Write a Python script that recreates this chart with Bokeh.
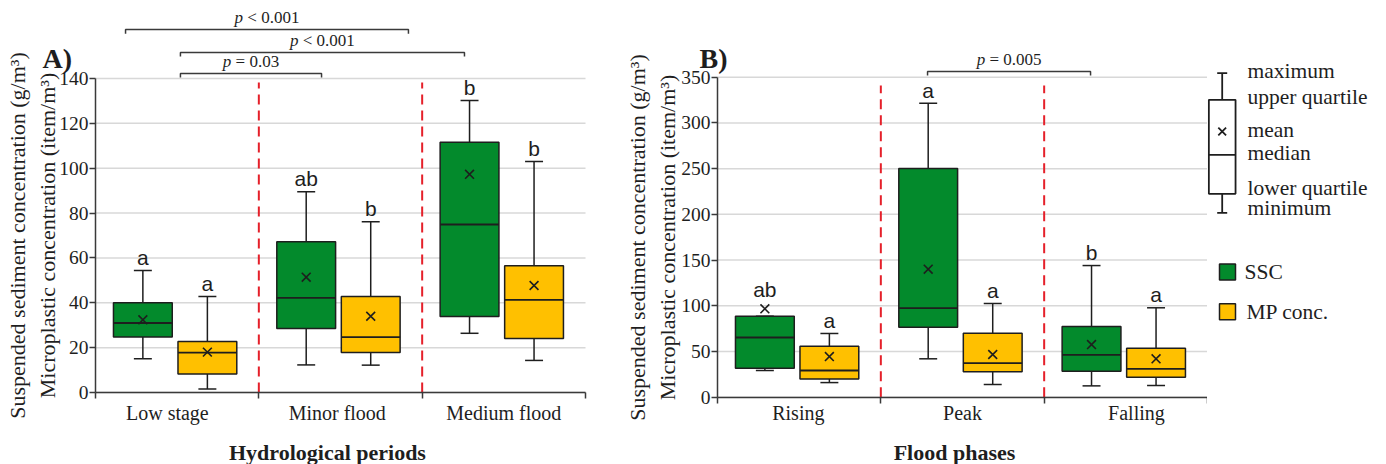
from bokeh.plotting import figure
from bokeh.models import Range1d, FixedTicker, CustomJSTickFormatter
from bokeh.layouts import row
from bokeh.embed import file_html
from bokeh.resources import INLINE
from bokeh.core.properties import value

# ---------------- data: panel A (hydrological periods) ----------------
periods = ["Low stage", "Minor flood", "Medium flood"]
ssc_a_min = [15.0, 12.3, 26.4]
ssc_a_q1 = [24.7, 28.5, 33.9]
ssc_a_med = [31.0, 42.2, 74.9]
ssc_a_q3 = [40.0, 67.2, 111.6]
ssc_a_max = [54.4, 89.5, 130.2]
ssc_a_mean = [32.4, 51.4, 97.3]
ssc_a_letters = ["a", "ab", "b"]

mp_a_min = [1.6, 12.2, 14.3]
mp_a_q1 = [8.3, 17.8, 24.1]
mp_a_med = [17.8, 24.7, 41.3]
mp_a_q3 = [22.7, 42.8, 56.5]
mp_a_max = [42.8, 76.1, 103.0]
mp_a_mean = [18.0, 34.0, 47.7]
mp_a_letters = ["a", "b", "b"]

yticks_a = [0, 20, 40, 60, 80, 100, 120, 140]

# ---------------- data: panel B (flood phases) ----------------
phases = ["Rising", "Peak", "Falling"]
ssc_b_min = [29.2, 42.0, 12.4]
ssc_b_q1 = [31.7, 76.6, 28.5]
ssc_b_med = [65.3, 97.4, 46.4]
ssc_b_q3 = [88.6, 250.1, 77.3]
ssc_b_max = [88.6, 321.6, 144.0]
ssc_b_mean = [96.7, 140.0, 57.6]
ssc_b_letters = ["ab", "a", "b"]

mp_b_min = [16.0, 13.9, 12.8]
mp_b_q1 = [20.0, 27.8, 21.9]
mp_b_med = [29.2, 37.2, 31.0]
mp_b_q3 = [55.8, 70.0, 53.6]
mp_b_max = [69.7, 102.5, 97.8]
mp_b_mean = [44.5, 46.7, 42.0]
mp_b_letters = ["a", "a", "a"]

yticks_b = [0, 50, 100, 150, 200, 250, 300, 350]

# significance brackets: (start, end, level, relation, p text)
brackets_a = [(0.184, 1.916, 161.8, "<", "0.001"),
              (0.520, 2.259, 151.6, "<", "0.001"),
              (0.520, 1.384, 142.2, "=", "0.03")]
brackets_b = [(1.286, 2.284, 356.2, "=", "0.005")]

series_names = ["SSC", "MP conc."]
GREEN = "#038A2C"
GOLD = "#FFC000"
RED = "#E5202A"
INK = "#1E1E1E"
AXIS = "#3A3A3A"
GRID = "#D8D8D8"
SERIF = "Liberation Serif"
SANS = "Liberation Sans"

BOX_W = 0.36
CAP_W = 0.11
OFF_SSC = 0.29
OFF_MP = 0.685
BASE_SHIFT = -7   # compensates the svg alphabetic-baseline shift
YLABEL = "Suspended sediment concentration (g/m\u00b3)\nMicroplastic concentration (item/m\u00b3)"


def make_panel(cats, label_pos, ssc, mp, yticks, xr, yr, y_top_line, brackets, tick_len,
               xlabel, xlabel_xy, panel_label, plabel_xy, width, x_std, y_lbl_std):
    p = figure(width=width, height=464, x_range=Range1d(*xr), y_range=Range1d(*yr),
               output_backend="svg", toolbar_location=None, min_border=0)
    p.outline_line_color = None
    p.background_fill_color = "white"
    p.xgrid.visible = False
    p.ygrid.visible = False

    # horizontal grid lines across the three categories
    p.segment(x0=[0] * len(yticks), x1=[3] * len(yticks), y0=yticks, y1=yticks,
              line_color=GRID, line_width=1.5)

    # y axis (anchored at x = 0)
    ya = p.yaxis[0]
    ya.fixed_location = 0
    ya.ticker = FixedTicker(ticks=yticks, minor_ticks=[])
    ya.bounds = (yticks[0], yticks[-1])
    ya.axis_line_color = AXIS
    ya.axis_line_width = 1.5
    ya.major_tick_line_color = AXIS
    ya.major_tick_line_width = 1.5
    ya.major_tick_out = 6
    ya.major_tick_in = 0
    ya.minor_tick_out = 0
    ya.minor_tick_in = 0
    ya.major_label_text_font = SERIF
    ya.major_label_text_font_size = "19.5px"
    ya.major_label_text_color = INK
    ya.major_label_standoff = 1
    ya.axis_label = YLABEL
    ya.axis_label_text_font = SERIF
    ya.axis_label_text_font_style = "normal"
    ya.axis_label_text_font_size = "22px"
    ya.axis_label_text_color = INK
    ya.axis_label_text_line_height = 1.22
    ya.axis_label_standoff = y_lbl_std

    # x axis (anchored at y = 0); labels sit under each category
    xa = p.xaxis[0]
    xa.fixed_location = 0
    xa.bounds = (0, 3)
    xa.ticker = FixedTicker(ticks=label_pos, minor_ticks=[0, 1, 2, 3])
    xa.formatter = CustomJSTickFormatter(args=dict(labels=cats),
                                         code="return labels[Math.floor(tick)];")
    xa.axis_line_color = AXIS
    xa.axis_line_width = 1.5
    xa.major_tick_out = 0
    xa.major_tick_in = 0
    xa.minor_tick_out = 6
    xa.minor_tick_in = 0
    xa.minor_tick_line_color = AXIS
    xa.minor_tick_line_width = 1.5
    xa.major_label_text_font = SERIF
    xa.major_label_text_font_size = "20px"
    xa.major_label_text_color = INK
    xa.major_label_standoff = x_std

    # x axis title
    p.text(x=[xlabel_xy[0]], y=[xlabel_xy[1]], text=[xlabel], text_align="center",
           text_baseline="middle", text_font=value(SERIF), text_font_style="bold",
           text_font_size="22px", text_color=INK)

    # red dashed dividers
    p.segment(x0=[1, 2], x1=[1, 2], y0=[0, 0], y1=[y_top_line, y_top_line],
              line_color=RED, line_width=2, line_dash="10 6")

    for (mn, q1, med, q3, mx, mean, letters), off, color in (
            (ssc, OFF_SSC, GREEN), (mp, OFF_MP, GOLD)):
        xs = [i + off for i in range(len(cats))]
        p.segment(x0=xs, x1=xs, y0=q3, y1=mx, line_color=INK, line_width=1.5)
        p.segment(x0=xs, x1=xs, y0=q1, y1=mn, line_color=INK, line_width=1.5)
        p.segment(x0=[x - CAP_W / 2 for x in xs], x1=[x + CAP_W / 2 for x in xs],
                  y0=mx, y1=mx, line_color=INK, line_width=1.5)
        p.segment(x0=[x - CAP_W / 2 for x in xs], x1=[x + CAP_W / 2 for x in xs],
                  y0=mn, y1=mn, line_color=INK, line_width=1.5)
        p.vbar(x=xs, width=BOX_W, bottom=q1, top=q3, fill_color=color,
               line_color=INK, line_width=1.5)
        p.segment(x0=[x - BOX_W / 2 for x in xs], x1=[x + BOX_W / 2 for x in xs],
                  y0=med, y1=med, line_color=INK, line_width=1.8)
        p.scatter(x=xs, y=mean, marker="x", size=12.5, line_color=INK, line_width=1.6)
        tops = [max(a, b) for a, b in zip(mx, mean)]
        yoff = [BASE_SHIFT - (12 if b > a else 6) for a, b in zip(mx, mean)]
        p.text(x=xs, y=tops, text=letters, y_offset=yoff, text_align="center",
               text_baseline="alphabetic", text_font=value(SANS),
               text_font_size="21px", text_color=INK)

    # significance brackets
    for x0, x1, lvl, rel, pv in brackets:
        p.multi_line(xs=[[x0, x0, x1, x1]], ys=[[lvl - tick_len, lvl, lvl, lvl - tick_len]],
                     line_color=AXIS, line_width=1.5)
        rest = "\u00a0%s\u00a0%s" % (rel, pv)
        w_rest = 17 * (0.25 + 0.564 + 0.25 + 0.5 * (len(pv) - 1) + 0.25)
        w_all = w_rest + 17 * 0.5
        xc = (x0 + x1) / 2
        anchor_off = -w_all / 2 + 17 * 0.5
        p.text(x=[xc], y=[lvl], text=["p"], x_offset=anchor_off, y_offset=BASE_SHIFT - 5,
               text_align="right", text_baseline="alphabetic",
               text_font=value(SERIF), text_font_style="italic",
               text_font_size="17px", text_color=INK)
        p.text(x=[xc], y=[lvl], text=[rest], x_offset=anchor_off, y_offset=BASE_SHIFT - 5,
               text_align="left", text_baseline="alphabetic",
               text_font=value(SERIF), text_font_size="17px", text_color=INK)

    p.text(x=[plabel_xy[0]], y=[plabel_xy[1]], text=[panel_label], y_offset=BASE_SHIFT,
           text_font=value(SERIF), text_font_style="bold", text_font_size="28px",
           text_color=INK, text_baseline="alphabetic", text_align="left")
    return p


ssc_a = (ssc_a_min, ssc_a_q1, ssc_a_med, ssc_a_q3, ssc_a_max, ssc_a_mean, ssc_a_letters)
mp_a = (mp_a_min, mp_a_q1, mp_a_med, mp_a_q3, mp_a_max, mp_a_mean, mp_a_letters)
ssc_b = (ssc_b_min, ssc_b_q1, ssc_b_med, ssc_b_q3, ssc_b_max, ssc_b_mean, ssc_b_letters)
mp_b = (mp_b_min, mp_b_q1, mp_b_med, mp_b_q3, mp_b_max, mp_b_mean, mp_b_letters)

pA = make_panel(periods, [0.44, 1.48, 2.50], ssc_a, mp_a, yticks_a,
                (-0.5816, 3.2265), (-32.10, 174.78), 138.2, brackets_a, 1.8,
                "Hydrological periods", (1.42, -26.75), "A)", (-0.324, 145.8),
                622, 3, -4)
pB = make_panel(phases, [0.495, 1.50, 2.565], ssc_b, mp_b, yticks_b,
                (-0.5816, 3.0), (-73.6, 433.9), 341, brackets_b, 4.4,
                "Flood phases", (1.451, -61.0), "B)", (-0.110, 362.8),
                585, -1, -2)

# ---------------- key (legend) panel, laid out in page pixels ----------------
key_labels = ["maximum", "upper quartile", "mean", "median", "lower quartile", "minimum"]
key_label_rows = [70.7, 96.7, 129.3, 152.3, 187.3, 207.7]
key_rows = dict(max=72.7, q3=99.3, mean=131.0, med=154.3, q1=193.3, min=212.3)

pL = figure(width=177, height=464, x_range=Range1d(1207, 1384),
            y_range=Range1d(464, 0), output_backend="svg", toolbar_location=None,
            min_border=0, x_axis_type=None, y_axis_type=None)
pL.outline_line_color = None
pL.xgrid.visible = False
pL.ygrid.visible = False
kc = 1221.7
kw = 26.7
pL.segment(x0=[kc, kc], x1=[kc, kc], y0=[key_rows["max"], key_rows["q1"]],
           y1=[key_rows["q3"], key_rows["min"]], line_color=INK, line_width=1.8)
pL.segment(x0=[kc - 5, kc - 5], x1=[kc + 5, kc + 5],
           y0=[key_rows["max"], key_rows["min"]], y1=[key_rows["max"], key_rows["min"]],
           line_color=INK, line_width=1.8)
pL.quad(left=[kc - kw / 2], right=[kc + kw / 2], top=[key_rows["q3"]],
        bottom=[key_rows["q1"]], fill_color="white", line_color=INK, line_width=1.8)
pL.segment(x0=[kc - kw / 2], x1=[kc + kw / 2], y0=[key_rows["med"]],
           y1=[key_rows["med"]], line_color=INK, line_width=1.8)
pL.scatter(x=[kc], y=[key_rows["mean"]], marker="x", size=11, line_color=INK,
           line_width=1.8)
pL.text(x=[1247] * len(key_labels), y=key_label_rows, text=key_labels,
        text_align="left", text_baseline="middle", text_font=value(SERIF),
        text_font_size="21.5px", text_color=INK)

key_colors = [GREEN, GOLD]
key_sw_rows = [271.5, 311.3]
pL.quad(left=[1219, 1219], right=[1235, 1235], top=[r - 8 for r in key_sw_rows],
        bottom=[r + 8 for r in key_sw_rows], fill_color=key_colors,
        line_color=INK, line_width=1.5)
pL.text(x=[1244, 1246], y=key_sw_rows, text=series_names, text_align="left",
        text_baseline="middle", text_font=value(SERIF), text_font_size="21.5px",
        text_color=INK)

layout = row(pA, pB, pL)
open("out.html", "w").write(file_html(layout, INLINE))
